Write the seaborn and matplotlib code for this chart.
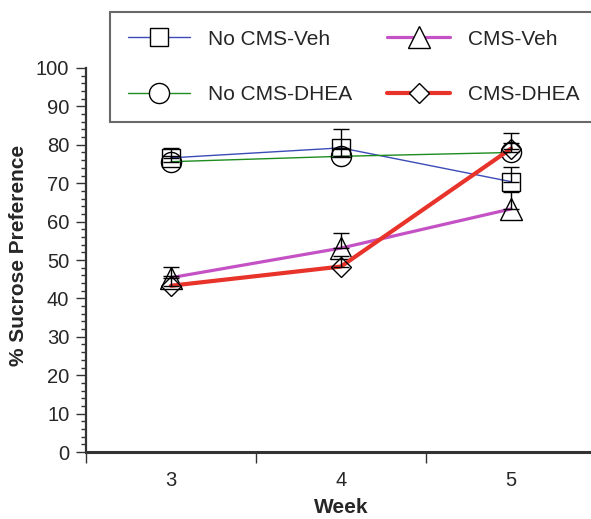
import matplotlib
matplotlib.use("Agg")
import matplotlib.pyplot as plt
from matplotlib.lines import Line2D
from matplotlib.ticker import FixedLocator
import seaborn as sns
import pandas as pd

weeks = [3, 4, 5]
groups = ["No CMS-Veh", "No CMS-DHEA", "CMS-Veh", "CMS-DHEA"]
no_cms_veh = [76.6, 79.2, 70.4]
no_cms_veh_err = [2.6, 4.8, 3.7]
no_cms_dhea = [75.6, 77.0, 78.0]
no_cms_dhea_err = [1.5, 2.0, 2.5]
cms_veh = [45.4, 53.1, 63.3]
cms_veh_err = [2.8, 4.0, 4.5]
cms_dhea = [43.3, 48.3, 79.0]
cms_dhea_err = [2.5, 2.8, 4.2]
yticks = [0, 10, 20, 30, 40, 50, 60, 70, 80, 90, 100]

values = {"No CMS-Veh": no_cms_veh, "No CMS-DHEA": no_cms_dhea,
          "CMS-Veh": cms_veh, "CMS-DHEA": cms_dhea}
errors = {"No CMS-Veh": no_cms_veh_err, "No CMS-DHEA": no_cms_dhea_err,
          "CMS-Veh": cms_veh_err, "CMS-DHEA": cms_dhea_err}

colors = {"No CMS-Veh": "#3b4cb8", "No CMS-DHEA": "#1e8c1e",
          "CMS-Veh": "#c452c4", "CMS-DHEA": "#e8332a"}
widths = {"No CMS-Veh": 1.0, "No CMS-DHEA": 1.0, "CMS-Veh": 2.3, "CMS-DHEA": 3.0}
markers = {"No CMS-Veh": "s", "No CMS-DHEA": "o", "CMS-Veh": "^", "CMS-DHEA": "D"}
msizes = {"No CMS-Veh": 12.5, "No CMS-DHEA": 14.5, "CMS-Veh": 16, "CMS-DHEA": 10}

rows = []
for g in groups:
    for w, v, e in zip(weeks, values[g], errors[g]):
        rows.append({"week": w, "value": v, "err": e, "group": g})
df = pd.DataFrame(rows)

sns.set_style("white")
plt.rcParams["font.family"] = ["Liberation Sans", "DejaVu Sans"]

fig = plt.figure(figsize=(5.91, 5.19), dpi=100)
ax = fig.add_axes([86 / 591, 67 / 519, 510 / 591, 441.6 / 519])

for g in groups:
    sub = df[df["group"] == g]
    sns.lineplot(data=sub, x="week", y="value", ax=ax, color=colors[g],
                 linewidth=widths[g], marker=markers[g], markersize=msizes[g],
                 markerfacecolor="none", markeredgecolor="black",
                 markeredgewidth=1.0, legend=False, errorbar=None, zorder=3)
    ax.errorbar(sub["week"], sub["value"], yerr=[[0] * len(sub), sub["err"]],
                fmt="none", ecolor="black", elinewidth=1.0, capsize=6,
                capthick=1.0, zorder=4)

ax.set_xlim(2.5, 5.5)
ax.set_ylim(0, 115)
ax.set_yticks(yticks)
ax.yaxis.set_minor_locator(FixedLocator(list(range(0, 101, 2))))
ax.set_xticks(weeks)
ax.xaxis.set_minor_locator(FixedLocator([2.5, 3.5, 4.5]))

for s in ["top", "right"]:
    ax.spines[s].set_visible(False)
ax.spines["left"].set_bounds(0, 100)
ax.spines["left"].set_linewidth(1.6)
ax.spines["left"].set_color("#333333")
ax.spines["bottom"].set_linewidth(2.2)
ax.spines["bottom"].set_color("#333333")

ax.tick_params(axis="y", which="major", direction="out", length=7, width=1.0,
               color="#333333", labelsize=14.5, pad=5, left=True)
ax.tick_params(axis="y", which="minor", direction="out", length=3.5, width=1.0,
               color="#333333", left=True)
ax.tick_params(axis="x", which="major", length=0, labelsize=14.5, pad=14, bottom=True)
ax.tick_params(axis="x", which="minor", direction="out", length=8, width=1.0,
               color="#333333", bottom=True)

ax.set_xlabel("Week", fontsize=15, fontweight="bold")
ax.set_ylabel("% Sucrose Preference", fontsize=15, fontweight="bold")
ax.xaxis.set_label_coords(255 / 510, -46 / 441.6)
ax.yaxis.set_label_coords(-58 / 510, 0.445)

handles = []
for g in groups:
    handles.append(Line2D([0], [0], color=colors[g], lw=widths[g], marker=markers[g],
                          markersize=msizes[g], markerfacecolor="white",
                          markeredgecolor="black", markeredgewidth=1.0))
leg = fig.legend(handles=handles, labels=groups, ncol=2, loc="upper left",
                 bbox_to_anchor=(110 / 591, 1 - 12 / 519), borderaxespad=0,
                 fontsize=15, frameon=True, fancybox=False, shadow=False,
                 handlelength=3.0, handletextpad=0.85, columnspacing=1.7,
                 labelspacing=1.75, borderpad=0.85)
leg.get_frame().set_edgecolor("#444444")
leg.get_frame().set_linewidth(1.5)

fig.savefig("out.png", dpi=100)
